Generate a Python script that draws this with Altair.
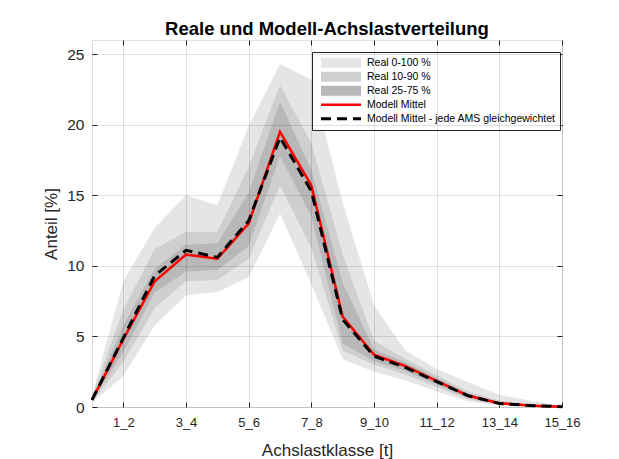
import altair as alt
import pandas as pd

classes = ["0_1", "1_2", "2_3", "3_4", "4_5", "5_6", "6_7", "7_8",
           "8_9", "9_10", "10_11", "11_12", "12_13", "13_14", "14_15", "15_16"]
tick_labels = ["1_2", "3_4", "5_6", "7_8", "9_10", "11_12", "13_14", "15_16"]
y_ticks = [0, 5, 10, 15, 20, 25]

real_min = [0.3, 2.2, 5.8, 7.9, 8.15, 9.2, 13.7, 8.7, 3.4, 2.5, 1.9, 1.1, 0.4, 0.1, 0.02, 0.0]
real_max = [0.8, 8.9, 12.7, 15.0, 14.3, 19.9, 24.3, 23.2, 14.5, 7.2, 4.0, 2.7, 1.75, 0.85, 0.45, 0.1]
real_p10 = [0.35, 3.2, 7.0, 8.9, 9.0, 10.5, 15.7, 11.3, 4.0, 3.0, 2.3, 1.4, 0.55, 0.15, 0.05, 0.0]
real_p90 = [0.7, 6.9, 11.2, 12.4, 12.4, 17.0, 22.8, 18.7, 10.8, 4.7, 3.4, 2.25, 1.1, 0.45, 0.2, 0.05]
real_p25 = [0.4, 3.9, 8.1, 9.6, 9.7, 11.4, 17.8, 13.5, 4.5, 3.25, 2.55, 1.6, 0.65, 0.2, 0.07, 0.01]
real_p75 = [0.6, 5.8, 9.8, 11.5, 11.6, 15.2, 21.6, 16.8, 8.8, 4.1, 3.15, 2.05, 0.95, 0.35, 0.14, 0.03]
model_mean = [0.5, 4.8, 8.9, 10.8, 10.5, 13.0, 19.5, 15.7, 6.4, 3.7, 2.9, 1.85, 0.8, 0.27, 0.1, 0.02]
model_mean_w = [0.5, 4.9, 9.3, 11.1, 10.6, 13.2, 19.1, 15.3, 6.2, 3.6, 2.8, 1.8, 0.8, 0.25, 0.1, 0.02]

names = ["Real 0-100 %", "Real 10-90 %", "Real 25-75 %", "Modell Mittel",
         "Modell Mittel - jede AMS gleichgewichtet"]
colors = ["#e5e5e5", "#cfcfcf", "#b8b8b8", "#ff0000", "#000000"]
widths = [10, 10, 10, 2.5, 3]
dashes = [[1, 0], [1, 0], [1, 0], [1, 0], [10, 6]]

FONT = "Liberation Sans"
AX = "#262626"


def band(lo, hi):
    return pd.DataFrame({"klasse": classes, "lo": lo, "hi": hi})


def line(vals, name):
    return pd.DataFrame({"klasse": classes, "value": vals, "s": name})


xscale = alt.Scale(type="point", padding=0, domain=classes)
yscale = alt.Scale(domain=[0, 26], nice=False, zero=True)
cscale = alt.Scale(type="ordinal", domain=names, range=colors)
wscale = alt.Scale(type="ordinal", domain=names, range=widths)
dscale = alt.Scale(type="ordinal", domain=names, range=dashes)

legend = alt.Legend(
    title=None, orient="none", legendX=220, legendY=12,
    symbolType="stroke", symbolSize=1600, labelFontSize=10.5, labelFont=FONT,
    labelColor="#000000", strokeColor=AX, fillColor="white", padding=4,
    labelOffset=1, rowPadding=0, clipHeight=13.5, labelLimit=400,
)

main_x = alt.Axis(values=tick_labels, labelAngle=0, ticks=False, domain=False,
                  grid=True, gridColor="#000000", gridOpacity=0.12,
                  labelFontSize=13, labelPadding=9, labelFont=FONT, labelColor=AX,
                  title="Achslastklasse [t]", titleFontSize=17, titleFont=FONT,
                  titleFontWeight="normal", titleColor=AX, titlePadding=13, zindex=1)
main_y = alt.Axis(values=y_ticks, ticks=False, domain=False,
                  grid=True, gridColor="#000000", gridOpacity=0.12,
                  labelFontSize=15.5, labelPadding=8, labelFont=FONT, labelColor=AX,
                  title="Anteil [%]", titleFontSize=17, titleFont=FONT,
                  titleFontWeight="normal", titleColor=AX, titlePadding=6, zindex=1)

layers = []
for i, (lo, hi) in enumerate([(real_min, real_max), (real_p10, real_p90), (real_p25, real_p75)]):
    layers.append(
        alt.Chart(band(lo, hi)).mark_area(interpolate="linear", color=colors[i]).encode(
            x=alt.X("klasse:O", scale=xscale, axis=main_x if i == 0 else None),
            y=alt.Y("lo:Q", scale=yscale, axis=main_y if i == 0 else None),
            y2="hi:Q",
        )
    )

for vals, name in [(model_mean, names[3]), (model_mean_w, names[4])]:
    layers.append(
        alt.Chart(line(vals, name)).mark_line().encode(
            x=alt.X("klasse:O", scale=xscale, axis=None),
            y=alt.Y("value:Q", scale=yscale, axis=None),
            color=alt.Color("s:N", scale=cscale, legend=legend),
            strokeWidth=alt.StrokeWidth("s:N", scale=wscale, legend=legend),
            strokeDash=alt.StrokeDash("s:N", scale=dscale, legend=legend),
        )
    )

tick_df = line(model_mean, names[3])


def tick_axis(orient, values):
    return alt.Axis(orient=orient, values=values, labels=False, domain=False, grid=False,
                    ticks=True, tickSize=5, offset=-5, tickColor=AX, title=None)


layers.append(
    alt.Chart(tick_df).mark_point(opacity=0).encode(
        x=alt.X("klasse:O", scale=xscale, axis=tick_axis("bottom", tick_labels)),
        y=alt.Y("value:Q", scale=yscale, axis=tick_axis("left", y_ticks)),
    )
)
layers.append(
    alt.Chart(tick_df).mark_point(opacity=0).encode(
        x=alt.X("klasse:O", scale=xscale, axis=tick_axis("top", tick_labels)),
        y=alt.Y("value:Q", scale=yscale, axis=tick_axis("right", y_ticks)),
    )
)

chart = alt.layer(*layers).resolve_axis(
    x="independent", y="independent"
).properties(
    width=470, height=367,
    title=alt.TitleParams("Reale und Modell-Achslastverteilung", fontSize=18.5,
                          font=FONT, fontWeight="bold", color="#000000",
                          anchor="middle", offset=1),
    autosize=alt.AutoSizeParams(type="none"),
    padding={"left": 84, "top": 32, "right": 40, "bottom": 52},
).configure_view(stroke="#555555", strokeWidth=1).configure(background="white")

chart.save("out.html", embed_options={"renderer": "svg", "actions": False})
